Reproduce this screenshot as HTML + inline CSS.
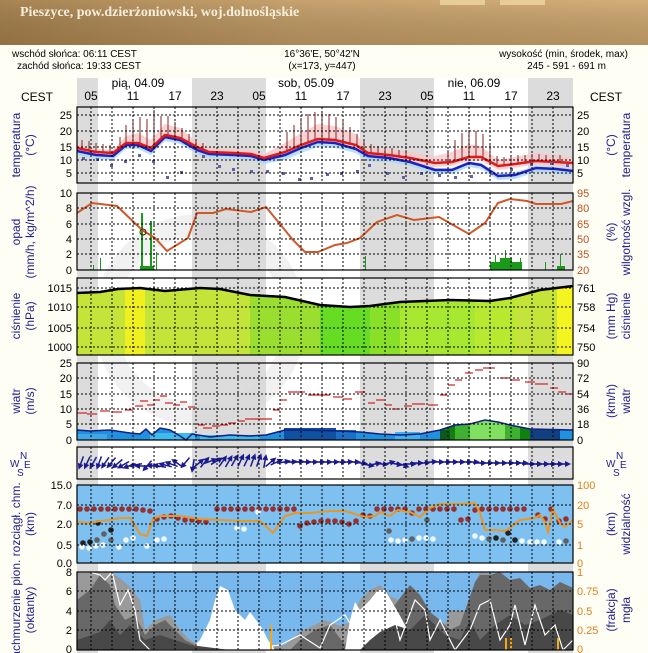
<!DOCTYPE html>
<html><head><meta charset="utf-8"><style>
html,body{margin:0;padding:0;background:#fffef4;width:648px;height:653px;overflow:hidden}
svg{display:block}
text{font-family:"Liberation Sans",sans-serif}
</style></head><body>
<svg width="648" height="653" viewBox="0 0 648 653" xmlns="http://www.w3.org/2000/svg">
<defs>
<linearGradient id="hd" x1="0" y1="0" x2="1" y2="0">
<stop offset="0" stop-color="#a88452"/><stop offset="0.45" stop-color="#c6a26e"/><stop offset="1" stop-color="#d2ae78"/></linearGradient>
<linearGradient id="hd2" x1="0" y1="0" x2="0" y2="1">
<stop offset="0" stop-color="#000" stop-opacity="0"/><stop offset="1" stop-color="#5a3a18" stop-opacity="0.25"/></linearGradient>
<g id="ar"><line x1="-7" y1="0" x2="3" y2="0" stroke="#1a1a90" stroke-width="1.5"/><polygon points="7,0 1,-3 1,3" fill="#1a1a90"/></g>
</defs>
<rect x="0" y="0" width="648" height="45" fill="url(#hd)"/>
<rect x="0" y="0" width="648" height="45" fill="url(#hd2)"/>
<rect x="440" y="0" width="45" height="5" fill="#e8cc98"/>
<rect x="500" y="0" width="45" height="5" fill="#e8cc98"/>
<text x="20" y="16" font-weight="bold" font-size="14" fill="#f6eedc" style="font-family:'Liberation Serif',serif">Pieszyce, pow.dzierżoniowski, woj.dolnośląskie</text>

<g font-size="10" fill="#000">
<text x="12" y="57">wschód słońca: 06:11 CEST</text>
<text x="17" y="69">zachód słońca: 19:33 CEST</text>
<text x="322" y="57" text-anchor="middle">16°36'E, 50°42'N</text>
<text x="322" y="69" text-anchor="middle">(x=173,  y=447)</text>
<text x="628" y="57" text-anchor="end">wysokość (min, środek, max)</text>
<text x="606" y="69" text-anchor="end">245 - 591 - 691 m</text>
</g>

<g fill="#dcdcdc">
<rect x="77" y="78" width="21" height="575"/>
<rect x="192" y="78" width="74" height="575"/>
<rect x="360" y="78" width="74" height="575"/>
<rect x="528" y="78" width="45" height="575"/>
</g>
<g fill="#ffffff">
<rect x="98" y="78" width="94" height="575"/><rect x="266" y="78" width="94" height="575"/><rect x="434" y="78" width="94" height="575"/>
</g>

<g font-size="12" fill="#000" text-anchor="middle">
<text x="138" y="87">pią, 04.09</text><text x="306" y="87">sob, 05.09</text><text x="474" y="87">nie, 06.09</text>
<text x="91" y="100">05</text><text x="133" y="100">11</text><text x="175" y="100">17</text><text x="217" y="100">23</text>
<text x="259" y="100">05</text><text x="301" y="100">11</text><text x="343" y="100">17</text><text x="385" y="100">23</text>
<text x="427" y="100">05</text><text x="469" y="100">11</text><text x="511" y="100">17</text><text x="553" y="100">23</text>
<text x="37" y="101">CEST</text><text x="606" y="101">CEST</text>
</g>

<circle cx="200" cy="320" r="95" fill="none" stroke="#d8d8d8" stroke-width="22" opacity="0.35"/>

<!-- TEMPERATURE -->
<polygon fill="#f8c8c8" opacity="0.8" points="77,144 96,149 113,150 126,136 138,133 151,140 165,124 180,128 197,142 209,148 234,149 251,150 264,154 285,143 301,133 318,124 335,126 356,134 368,148 389,149 410,152 435,156 452,152 469,144 481,146 498,160 515,157 536,153 556,155 573,157 573,168 556,166 536,164 515,168 498,170 481,161 469,161 452,166 435,167 410,162 389,159 368,157 356,150 335,145 318,143 301,150 285,156 264,162 251,158 234,157 209,156 197,151 180,142 165,139 151,152 138,147 126,147 113,157 96,156 77,152"/>
<polygon fill="#a8d8f8" opacity="0.8" points="77,150 96,154 113,155 126,144 138,144 151,150 165,136 180,139 197,149 209,153 234,154 251,155 264,159 285,154 301,147 318,141 335,142 356,148 368,155 389,157 410,161 435,168 452,168 469,161 481,163 498,173 515,172 536,166 556,167 573,169 573,175 536,172 515,179 498,180 481,169 469,167 452,174 435,174 410,166 389,162 368,161 356,153 335,148 318,147 301,153 285,160 264,164 251,160 234,159 209,158 197,154 180,144 165,141 151,155 138,149 126,149 113,160 96,159 77,155"/>
<g stroke="#8a2020" stroke-width="1">
<line x1="82" y1="148" x2="82" y2="140"/><line x1="89" y1="150" x2="89" y2="141"/><line x1="96" y1="152" x2="96" y2="143"/><line x1="103" y1="152" x2="103" y2="144"/><line x1="110" y1="153" x2="110" y2="145"/>
<line x1="120" y1="150" x2="120" y2="137"/><line x1="126" y1="143" x2="126" y2="125"/><line x1="133" y1="143" x2="133" y2="121"/><line x1="140" y1="143" x2="140" y2="117"/><line x1="147" y1="146" x2="147" y2="119"/><line x1="154" y1="147" x2="154" y2="110"/><line x1="161" y1="140" x2="161" y2="116"/><line x1="168" y1="136" x2="168" y2="116"/><line x1="175" y1="137" x2="175" y2="122"/><line x1="182" y1="139" x2="182" y2="128"/><line x1="189" y1="143" x2="189" y2="134"/><line x1="196" y1="147" x2="196" y2="140"/><line x1="203" y1="150" x2="203" y2="143"/>
<line x1="287" y1="151" x2="287" y2="132"/><line x1="294" y1="148" x2="294" y2="125"/><line x1="301" y1="145" x2="301" y2="118"/><line x1="308" y1="142" x2="308" y2="114"/><line x1="315" y1="140" x2="315" y2="112"/><line x1="322" y1="139" x2="322" y2="112"/><line x1="329" y1="139" x2="329" y2="114"/><line x1="336" y1="140" x2="336" y2="117"/><line x1="343" y1="142" x2="343" y2="121"/><line x1="350" y1="144" x2="350" y2="127"/><line x1="357" y1="146" x2="357" y2="134"/><line x1="364" y1="150" x2="364" y2="140"/><line x1="371" y1="153" x2="371" y2="144"/><line x1="378" y1="154" x2="378" y2="146"/><line x1="385" y1="155" x2="385" y2="147"/><line x1="392" y1="155" x2="392" y2="148"/><line x1="399" y1="157" x2="399" y2="150"/><line x1="406" y1="158" x2="406" y2="150"/>
<line x1="448" y1="162" x2="448" y2="150"/><line x1="455" y1="161" x2="455" y2="140"/><line x1="462" y1="159" x2="462" y2="133"/><line x1="469" y1="157" x2="469" y2="130"/><line x1="476" y1="157" x2="476" y2="131"/><line x1="483" y1="158" x2="483" y2="134"/><line x1="490" y1="161" x2="490" y2="144"/><line x1="497" y1="165" x2="497" y2="156"/><line x1="504" y1="165" x2="504" y2="157"/><line x1="511" y1="164" x2="511" y2="156"/><line x1="518" y1="163" x2="518" y2="155"/><line x1="525" y1="162" x2="525" y2="155"/><line x1="532" y1="161" x2="532" y2="154"/><line x1="539" y1="161" x2="539" y2="154"/><line x1="546" y1="162" x2="546" y2="155"/><line x1="553" y1="162" x2="553" y2="155"/><line x1="560" y1="162" x2="560" y2="155"/>
</g>
<polyline fill="none" stroke="#2020c0" stroke-width="2.5" points="77,151 96,155 113,156 126,145 138,145 151,151 165,137 180,140 197,150 209,154 234,155 251,156 264,160 285,155 301,148 318,142 335,143 356,149 368,156 389,158 410,162 435,170 452,170 469,163 481,165 498,176 515,175 536,168 556,169 573,171"/>
<polyline fill="none" stroke="#e01818" stroke-width="2.5" points="77,148 96,152 113,153 126,143 138,143 151,148 165,135 180,138 197,147 209,152 234,153 251,154 264,158 285,152 301,145 318,139 335,140 356,145 368,153 389,155 410,158 435,163 452,162 469,157 481,157 498,166 515,164 536,161 556,162 573,163"/>
<g fill="#6060b0">
<rect x="82" y="157" width="3" height="3"/><rect x="96" y="158" width="3" height="3"/><rect x="110" y="164" width="3" height="3"/><rect x="124" y="160" width="3" height="3"/><rect x="138" y="154" width="3" height="3"/><rect x="152" y="160" width="3" height="3"/><rect x="166" y="176" width="3" height="3"/><rect x="180" y="171" width="3" height="3"/><rect x="202" y="155" width="3" height="3"/><rect x="218" y="165" width="3" height="3"/><rect x="232" y="168" width="3" height="3"/><rect x="250" y="170" width="3" height="3"/><rect x="266" y="170" width="3" height="3"/><rect x="282" y="172" width="3" height="3"/><rect x="298" y="178" width="3" height="3"/><rect x="310" y="177" width="3" height="3"/><rect x="326" y="173" width="3" height="3"/><rect x="340" y="172" width="3" height="3"/><rect x="356" y="170" width="3" height="3"/><rect x="368" y="164" width="3" height="3"/><rect x="386" y="172" width="3" height="3"/><rect x="402" y="176" width="3" height="3"/><rect x="420" y="172" width="3" height="3"/><rect x="438" y="174" width="3" height="3"/><rect x="454" y="176" width="3" height="3"/><rect x="470" y="175" width="3" height="3"/><rect x="490" y="172" width="3" height="3"/><rect x="510" y="168" width="3" height="3"/><rect x="530" y="163" width="3" height="3"/><rect x="550" y="162" width="3" height="3"/><rect x="566" y="164" width="3" height="3"/>
</g>

<!-- OPAD -->
<g fill="#1a9a1a">
<rect x="141" y="213" width="2" height="57"/><rect x="150" y="221" width="2" height="49"/><rect x="156" y="252" width="1" height="18"/><rect x="100" y="258" width="1" height="12"/><rect x="93" y="265" width="1" height="5"/><rect x="365" y="256" width="1" height="14"/><rect x="140" y="266" width="14" height="4"/>
<rect x="490" y="262" width="32" height="8"/><rect x="500" y="258" width="12" height="4"/><rect x="505" y="250" width="1" height="12"/><rect x="495" y="255" width="1" height="8"/><rect x="520" y="258" width="1" height="6"/><rect x="545" y="262" width="1" height="8"/><rect x="560" y="254" width="1" height="16"/><rect x="557" y="266" width="8" height="4"/>
</g>
<polyline fill="none" stroke="#d05828" stroke-width="2" points="77,213 92,203 117,206 142,230 155,238 167,251 188,238 197,213 213,213 226,209 251,212 266,207 293,240 305,252 318,252 335,245 347,243 360,238 377,222 397,215 414,220 439,217 469,234 485,223 498,203 510,199 527,201 536,204 561,204 573,201"/>
<circle cx="143" cy="232" r="3" fill="none" stroke="#402010"/>

<!-- PRESSURE -->
<rect x="77" y="278" width="496" height="77" fill="#c4e43a"/>
<rect x="125" y="278" width="20" height="77" fill="#f0f020"/>
<rect x="557" y="278" width="16" height="77" fill="#f4f420"/>
<rect x="250" y="278" width="70" height="77" fill="#9ade30"/>
<rect x="320" y="278" width="50" height="77" fill="#66dd22"/>
<rect x="370" y="278" width="30" height="77" fill="#88e028"/>
<rect x="400" y="278" width="75" height="77" fill="#a8e830"/>
<rect x="475" y="278" width="40" height="77" fill="#b8e830"/>
<polygon fill="#ffffff" points="77,278 77,293 100,292 118,289 140,288 165,291 200,288 220,289 250,295 285,297 320,305 350,307 370,306 400,302 450,300 490,301 510,298 540,290 573,286 573,278"/>
<polygon fill="#dcdcdc" points="77,278 77,293 98,292 98,278"/>
<polygon fill="#dcdcdc" points="192,278 192,288 200,288 220,289 250,295 266,296 266,278"/>
<polygon fill="#dcdcdc" points="360,278 360,307 370,306 400,302 434,301 434,278"/>
<polygon fill="#dcdcdc" points="528,278 528,293 540,290 573,286 573,278"/>
<polyline fill="none" stroke="#000" stroke-width="2.5" points="77,293 100,292 118,289 140,288 165,291 200,288 220,289 250,295 285,297 320,305 350,307 370,306 400,302 450,300 490,301 510,298 540,290 573,286"/>

<!-- WIND -->
<polygon fill="#2090e0" points="77,430 90,431 110,430 130,433 140,434 146,429 152,435 160,428 170,430 180,436 186,440 192,434 210,437 230,435 250,436 266,435 285,430 300,430 340,431 360,432 380,434 400,435 420,434 440,430 455,425 470,424 485,420 498,422 510,425 530,429 573,430 573,440 77,440"/>
<rect x="284" y="428" width="52" height="12" fill="#1050a0"/>
<rect x="336" y="430" width="20" height="10" fill="#1a70c8"/>
<rect x="395" y="432" width="25" height="8" fill="#40b0f0"/>
<rect x="150" y="433" width="45" height="7" fill="#40b8f0"/>
<rect x="200" y="435" width="60" height="5" fill="#40b8f0"/>
<rect x="77" y="434" width="30" height="6" fill="#40a8e8"/>
<polygon fill="#108010" points="440,430 455,425 470,424 485,420 498,422 510,425 530,429 530,440 440,440"/>
<polygon fill="#40b030" points="455,425 470,424 485,420 498,422 510,425 520,427 520,440 455,440"/>
<polygon fill="#80e060" points="470,424 485,420 498,422 505,424 505,440 470,440"/>
<rect x="530" y="429" width="30" height="11" fill="#104080"/>
<rect x="440" y="430" width="10" height="10" fill="#0a5a20"/>
<polyline fill="none" stroke="#102080" stroke-width="1.5" points="77,430 90,431 110,430 130,433 140,434 146,429 152,435 160,428 170,430 180,436 186,440 192,434 210,437 230,435 250,436 266,435 285,430 300,430 340,431 360,432 380,434 400,435 420,434 440,430 455,425 470,424 485,420 498,422 510,425 530,429 573,430"/>
<g stroke="#d02020" stroke-width="1.2">
<line x1="77" y1="413" x2="87" y2="413"/><line x1="87" y1="414" x2="97" y2="414"/><line x1="100" y1="411" x2="110" y2="411"/><line x1="112" y1="412" x2="122" y2="412"/><line x1="125" y1="410" x2="133" y2="410"/><line x1="135" y1="406" x2="143" y2="406"/><line x1="140" y1="401" x2="148" y2="401"/><line x1="147" y1="405" x2="155" y2="405"/><line x1="153" y1="400" x2="160" y2="400"/><line x1="160" y1="396" x2="167" y2="396"/><line x1="165" y1="403" x2="173" y2="403"/><line x1="173" y1="405" x2="180" y2="405"/><line x1="180" y1="402" x2="187" y2="402"/><line x1="188" y1="407" x2="195" y2="407"/><line x1="198" y1="425" x2="205" y2="425"/><line x1="203" y1="428" x2="212" y2="428"/><line x1="212" y1="426" x2="220" y2="426"/><line x1="220" y1="425" x2="228" y2="425"/><line x1="228" y1="423" x2="236" y2="423"/><line x1="238" y1="421" x2="245" y2="421"/><line x1="245" y1="419" x2="255" y2="419"/><line x1="255" y1="419" x2="272" y2="419"/><line x1="273" y1="410" x2="280" y2="410"/><line x1="280" y1="400" x2="287" y2="400"/><line x1="288" y1="392" x2="295" y2="392"/><line x1="295" y1="392" x2="305" y2="392"/><line x1="308" y1="395" x2="330" y2="395"/><line x1="333" y1="397" x2="343" y2="397"/><line x1="343" y1="399" x2="352" y2="399"/><line x1="355" y1="392" x2="365" y2="392"/><line x1="368" y1="403" x2="375" y2="403"/><line x1="376" y1="400" x2="384" y2="400"/><line x1="385" y1="405" x2="392" y2="405"/><line x1="392" y1="409" x2="400" y2="409"/><line x1="404" y1="406" x2="412" y2="406"/><line x1="412" y1="404" x2="425" y2="404"/><line x1="428" y1="405" x2="438" y2="405"/><line x1="440" y1="395" x2="447" y2="395"/><line x1="448" y1="385" x2="455" y2="385"/><line x1="455" y1="380" x2="462" y2="380"/><line x1="465" y1="373" x2="473" y2="373"/><line x1="475" y1="370" x2="483" y2="370"/><line x1="483" y1="368" x2="495" y2="368"/><line x1="500" y1="378" x2="510" y2="378"/><line x1="510" y1="380" x2="520" y2="380"/><line x1="525" y1="382" x2="535" y2="382"/><line x1="535" y1="384" x2="548" y2="384"/><line x1="550" y1="388" x2="558" y2="388"/><line x1="558" y1="392" x2="566" y2="392"/><line x1="566" y1="394" x2="573" y2="394"/>
</g>

<!-- DIRECTION -->
<g>
<use href="#ar" transform="translate(81,463) rotate(110)"/><use href="#ar" transform="translate(87,463) rotate(115)"/><use href="#ar" transform="translate(93,463) rotate(120)"/><use href="#ar" transform="translate(99,463) rotate(110)"/><use href="#ar" transform="translate(105,463) rotate(125)"/><use href="#ar" transform="translate(111,463) rotate(130)"/><use href="#ar" transform="translate(117,464) rotate(140)"/><use href="#ar" transform="translate(123,465) rotate(150)"/><use href="#ar" transform="translate(129,466) rotate(160)"/><use href="#ar" transform="translate(135,465) rotate(170)"/><use href="#ar" transform="translate(141,466) rotate(180)"/><use href="#ar" transform="translate(147,466) rotate(130)"/><use href="#ar" transform="translate(153,466) rotate(185)"/><use href="#ar" transform="translate(159,466) rotate(190)"/><use href="#ar" transform="translate(165,465) rotate(195)"/><use href="#ar" transform="translate(171,464) rotate(200)"/><use href="#ar" transform="translate(177,463) rotate(215)"/><use href="#ar" transform="translate(185,463) rotate(130)"/><use href="#ar" transform="translate(193,466) rotate(100)"/>
<use href="#ar" transform="translate(199,463) rotate(-40)"/><use href="#ar" transform="translate(205,462) rotate(-50)"/><use href="#ar" transform="translate(211,461) rotate(-20)"/><use href="#ar" transform="translate(217,461) rotate(-30)"/><use href="#ar" transform="translate(223,461) rotate(-55)"/><use href="#ar" transform="translate(229,461) rotate(-60)"/><use href="#ar" transform="translate(235,460) rotate(-60)"/><use href="#ar" transform="translate(241,460) rotate(-65)"/><use href="#ar" transform="translate(247,460) rotate(-65)"/><use href="#ar" transform="translate(253,460) rotate(-70)"/><use href="#ar" transform="translate(259,460) rotate(-70)"/><use href="#ar" transform="translate(265,461) rotate(-80)"/><use href="#ar" transform="translate(271,462) rotate(-40)"/><use href="#ar" transform="translate(277,462) rotate(-25)"/>
<use href="#ar" transform="translate(284,462) rotate(-10)"/><use href="#ar" transform="translate(291,462) rotate(-5)"/><use href="#ar" transform="translate(298,462) rotate(-5)"/><use href="#ar" transform="translate(305,462) rotate(0)"/><use href="#ar" transform="translate(312,462) rotate(0)"/><use href="#ar" transform="translate(319,462) rotate(0)"/><use href="#ar" transform="translate(326,462) rotate(0)"/><use href="#ar" transform="translate(333,462) rotate(0)"/><use href="#ar" transform="translate(340,462) rotate(0)"/><use href="#ar" transform="translate(347,462) rotate(-3)"/><use href="#ar" transform="translate(354,462) rotate(0)"/><use href="#ar" transform="translate(361,463) rotate(5)"/><use href="#ar" transform="translate(368,465) rotate(10)"/><use href="#ar" transform="translate(375,464) rotate(-10)"/><use href="#ar" transform="translate(382,464) rotate(5)"/><use href="#ar" transform="translate(389,463) rotate(-15)"/><use href="#ar" transform="translate(396,464) rotate(10)"/><use href="#ar" transform="translate(403,465) rotate(20)"/><use href="#ar" transform="translate(410,464) rotate(0)"/><use href="#ar" transform="translate(417,463) rotate(0)"/><use href="#ar" transform="translate(424,463) rotate(-5)"/><use href="#ar" transform="translate(431,462) rotate(-5)"/><use href="#ar" transform="translate(438,462) rotate(0)"/><use href="#ar" transform="translate(445,462) rotate(0)"/><use href="#ar" transform="translate(452,462) rotate(0)"/><use href="#ar" transform="translate(459,462) rotate(0)"/><use href="#ar" transform="translate(466,462) rotate(0)"/><use href="#ar" transform="translate(473,462) rotate(0)"/><use href="#ar" transform="translate(480,463) rotate(0)"/><use href="#ar" transform="translate(487,463) rotate(0)"/><use href="#ar" transform="translate(494,463) rotate(0)"/><use href="#ar" transform="translate(501,463) rotate(0)"/><use href="#ar" transform="translate(508,463) rotate(0)"/><use href="#ar" transform="translate(515,463) rotate(0)"/><use href="#ar" transform="translate(522,463) rotate(0)"/><use href="#ar" transform="translate(529,464) rotate(0)"/><use href="#ar" transform="translate(536,464) rotate(0)"/><use href="#ar" transform="translate(543,464) rotate(0)"/><use href="#ar" transform="translate(550,464) rotate(0)"/><use href="#ar" transform="translate(557,464) rotate(0)"/><use href="#ar" transform="translate(564,464) rotate(0)"/>
</g>

<!-- CLOUD BASE -->
<rect x="77" y="485" width="496" height="78" fill="#7ec0f0"/>
<g fill="#983030">
<circle cx="80" cy="509" r="2.8"/><circle cx="87" cy="509" r="2.8"/><circle cx="94" cy="509" r="2.8"/><circle cx="101" cy="509" r="2.8"/><circle cx="108" cy="509" r="2.8"/><circle cx="115" cy="509" r="2.8"/><circle cx="122" cy="509" r="2.8"/><circle cx="129" cy="509" r="2.8"/><circle cx="136" cy="509" r="2.8"/><circle cx="143" cy="510" r="2.8"/><circle cx="150" cy="511" r="2.8"/>
<circle cx="157" cy="519" r="2.8"/><circle cx="164" cy="517" r="2.8"/><circle cx="171" cy="516" r="2.8"/><circle cx="178" cy="518" r="2.8"/><circle cx="185" cy="520" r="2.8"/><circle cx="192" cy="520" r="2.8"/><circle cx="199" cy="521" r="2.8"/><circle cx="206" cy="522" r="2.8"/>
<circle cx="217" cy="509" r="2.8"/><circle cx="224" cy="509" r="2.8"/><circle cx="231" cy="509" r="2.8"/><circle cx="238" cy="509" r="2.8"/><circle cx="245" cy="509" r="2.8"/><circle cx="252" cy="509" r="2.8"/><circle cx="259" cy="509" r="2.8"/><circle cx="266" cy="509" r="2.8"/><circle cx="273" cy="509" r="2.8"/><circle cx="280" cy="509" r="2.8"/><circle cx="287" cy="509" r="2.8"/><circle cx="294" cy="509" r="2.8"/>
<circle cx="300" cy="526" r="2.8"/><circle cx="307" cy="523" r="2.8"/><circle cx="314" cy="522" r="2.8"/><circle cx="321" cy="521" r="2.8"/><circle cx="328" cy="521" r="2.8"/><circle cx="335" cy="521" r="2.8"/><circle cx="342" cy="522" r="2.8"/><circle cx="349" cy="524" r="2.8"/><circle cx="356" cy="521" r="2.8"/><circle cx="363" cy="515" r="2.8"/><circle cx="370" cy="516" r="2.8"/>
<circle cx="377" cy="509" r="2.8"/><circle cx="384" cy="509" r="2.8"/><circle cx="391" cy="509" r="2.8"/><circle cx="398" cy="509" r="2.8"/><circle cx="405" cy="509" r="2.8"/><circle cx="412" cy="513" r="2.8"/><circle cx="419" cy="509" r="2.8"/><circle cx="426" cy="509" r="2.8"/><circle cx="433" cy="509" r="2.8"/><circle cx="440" cy="509" r="2.8"/><circle cx="447" cy="509" r="2.8"/><circle cx="454" cy="509" r="2.8"/><circle cx="461" cy="520" r="2.8"/><circle cx="468" cy="519" r="2.8"/>
<circle cx="475" cy="510" r="2.8"/><circle cx="482" cy="509" r="2.8"/><circle cx="489" cy="509" r="2.8"/><circle cx="496" cy="509" r="2.8"/><circle cx="503" cy="509" r="2.8"/><circle cx="510" cy="509" r="2.8"/><circle cx="517" cy="509" r="2.8"/><circle cx="524" cy="509" r="2.8"/><circle cx="538" cy="515" r="2.8"/><circle cx="545" cy="519" r="2.8"/><circle cx="551" cy="509" r="2.8"/><circle cx="559" cy="521" r="2.8"/><circle cx="566" cy="519" r="2.8"/>
</g>
<g fill="#222">
<circle cx="83" cy="543" r="2.8"/><circle cx="90" cy="542" r="2.8"/><circle cx="98" cy="523" r="2.8"/><circle cx="111" cy="530" r="2.8"/><circle cx="496" cy="538" r="2.8"/><circle cx="515" cy="540" r="2.8"/><circle cx="508" cy="533" r="2.8"/>
</g>
<g fill="#606060">
<circle cx="97" cy="540" r="2.8"/><circle cx="104" cy="534" r="2.8"/><circle cx="111" cy="540" r="2.8"/><circle cx="389" cy="531" r="2.8"/><circle cx="412" cy="539" r="2.8"/><circle cx="427" cy="520" r="2.8"/><circle cx="489" cy="539" r="2.8"/><circle cx="503" cy="540" r="2.8"/><circle cx="566" cy="541" r="2.8"/>
</g>
<g fill="#f0f8ff">
<circle cx="82" cy="547" r="2.8"/><circle cx="89" cy="548" r="2.8"/><circle cx="96" cy="546" r="2.8"/><circle cx="103" cy="545" r="2.8"/><circle cx="119" cy="547" r="2.8"/><circle cx="126" cy="540" r="2.8"/><circle cx="133" cy="538" r="2.8"/><circle cx="147" cy="546" r="2.8"/><circle cx="157" cy="540" r="2.8"/><circle cx="164" cy="539" r="2.8"/><circle cx="237" cy="528" r="2.8"/><circle cx="244" cy="529" r="2.8"/><circle cx="258" cy="512" r="2.8"/><circle cx="391" cy="540" r="2.8"/><circle cx="398" cy="541" r="2.8"/><circle cx="405" cy="540" r="2.8"/><circle cx="419" cy="538" r="2.8"/><circle cx="426" cy="538" r="2.8"/><circle cx="433" cy="539" r="2.8"/><circle cx="475" cy="536" r="2.8"/><circle cx="482" cy="538" r="2.8"/><circle cx="522" cy="541" r="2.8"/><circle cx="530" cy="542" r="2.8"/><circle cx="537" cy="542" r="2.8"/><circle cx="544" cy="542" r="2.8"/><circle cx="559" cy="542" r="2.8"/>
</g>
<polyline fill="none" stroke="#e89828" stroke-width="2" points="77,522 90,523 100,521 110,520 120,518 130,518 140,534 147,536 153,519 160,516 180,516 200,519 220,520 240,521 260,521 270,530 273,533 285,516 295,513 310,513 330,511 345,511 355,514 365,517 375,516 380,512 390,516 398,510 410,512 420,517 430,508 440,504 460,504 475,503 480,513 485,530 492,530 505,531 510,528 520,520 535,518 540,515 545,522 548,532 553,509 560,523 565,527 573,520"/>

<!-- CLOUD COVER -->
<rect x="77" y="572" width="496" height="78" fill="#78b8ec"/>
<polygon fill="#9a9a9a" points="77,572 77,650 573,650 573,620 560,598 545,615 530,600 515,603 505,585 500,575 480,572 475,582 470,612 450,610 445,625 430,617 415,608 398,600 390,596 380,585 370,590 360,600 350,622 340,626 325,620 300,632 285,645 270,646 250,650 235,650 225,650 200,645 190,640 180,630 170,615 155,620 145,630 140,600 130,587 120,578 110,572"/>
<polygon fill="#686868" points="77,600 90,590 100,575 110,585 115,605 125,620 135,615 145,635 155,625 165,620 175,630 185,640 195,645 215,648 235,635 245,647 270,648 290,650 300,640 315,630 330,625 345,645 355,620 365,605 375,595 385,600 395,605 400,598 410,585 420,595 430,612 440,620 450,630 460,625 475,582 480,575 490,575 500,572 510,580 520,578 530,588 540,585 550,590 560,582 573,588 573,650 77,650"/>
<polygon fill="#ffffff" points="190,650 200,640 210,620 215,600 220,586 228,590 235,610 245,620 250,612 262,628 268,640 275,650"/>
<polygon fill="#ffffff" points="345,650 350,620 355,602 360,610 370,600 378,590 385,590 392,602 398,612 405,625 410,640 415,650"/>
<polygon fill="#484848" points="77,640 100,632 110,620 120,635 130,625 145,640 160,635 175,640 190,645 230,650 360,650 370,640 380,632 395,625 410,630 425,615 445,635 460,640 470,620 480,640 495,625 510,615 525,625 540,620 560,610 573,615 573,650 77,650"/>
<polyline fill="none" stroke="#ffffff" stroke-width="1.2" points="77,572 90,572 100,575 105,580 112,572 120,605 128,590 135,610 140,640 150,650 200,650 240,650 280,645 300,635 320,648 330,625 345,615 360,640 375,600 385,612 395,620 400,640 415,600 425,610 430,640 440,620 455,650 470,630 480,605 490,600 500,640 510,625 515,605 525,645 535,605 545,635 555,625 563,650 573,640"/>
<g fill="#f4a818">
<rect x="270" y="625" width="2" height="25"/><rect x="505" y="638" width="2" height="12"/><rect x="510" y="638" width="2" height="12"/><rect x="557" y="638" width="2" height="12"/>
</g>

<!-- grids -->
<g stroke="#000" stroke-width="1" stroke-dasharray="2,2" fill="none">
<path d="M91 107V183M112 107V183M133 107V183M154 107V183M175 107V183M196 107V183M217 107V183M238 107V183M259 107V183M280 107V183M301 107V183M322 107V183M343 107V183M364 107V183M385 107V183M406 107V183M427 107V183M448 107V183M469 107V183M490 107V183M511 107V183M532 107V183M553 107V183"/>
<path d="M91 193V270M112 193V270M133 193V270M154 193V270M175 193V270M196 193V270M217 193V270M238 193V270M259 193V270M280 193V270M301 193V270M322 193V270M343 193V270M364 193V270M385 193V270M406 193V270M427 193V270M448 193V270M469 193V270M490 193V270M511 193V270M532 193V270M553 193V270"/>
<path d="M91 278V355M112 278V355M133 278V355M154 278V355M175 278V355M196 278V355M217 278V355M238 278V355M259 278V355M280 278V355M301 278V355M322 278V355M343 278V355M364 278V355M385 278V355M406 278V355M427 278V355M448 278V355M469 278V355M490 278V355M511 278V355M532 278V355M553 278V355"/>
<path d="M91 363V440M112 363V440M133 363V440M154 363V440M175 363V440M196 363V440M217 363V440M238 363V440M259 363V440M280 363V440M301 363V440M322 363V440M343 363V440M364 363V440M385 363V440M406 363V440M427 363V440M448 363V440M469 363V440M490 363V440M511 363V440M532 363V440M553 363V440"/>
<path d="M91 447V479M112 447V479M133 447V479M154 447V479M175 447V479M196 447V479M217 447V479M238 447V479M259 447V479M280 447V479M301 447V479M322 447V479M343 447V479M364 447V479M385 447V479M406 447V479M427 447V479M448 447V479M469 447V479M490 447V479M511 447V479M532 447V479M553 447V479"/>
<path d="M91 485V563M112 485V563M133 485V563M154 485V563M175 485V563M196 485V563M217 485V563M238 485V563M259 485V563M280 485V563M301 485V563M322 485V563M343 485V563M364 485V563M385 485V563M406 485V563M427 485V563M448 485V563M469 485V563M490 485V563M511 485V563M532 485V563M553 485V563"/>
<path d="M91 572V650M112 572V650M133 572V650M154 572V650M175 572V650M196 572V650M217 572V650M238 572V650M259 572V650M280 572V650M301 572V650M322 572V650M343 572V650M364 572V650M385 572V650M406 572V650M427 572V650M448 572V650M469 572V650M490 572V650M511 572V650M532 572V650M553 572V650"/>
<path d="M77 115H573M77 131H573M77 147H573M77 160H573M77 173H573"/>
<path d="M77 193H573M77 208H573M77 224H573M77 239H573M77 254H573"/>
<path d="M77 288H573M77 307H573M77 328H573M77 347H573"/>
<path d="M77 378H573M77 394H573M77 409H573M77 424H573"/>
<path d="M77 505H573M77 524H573M77 545H573"/>
<path d="M77 591H573M77 611H573M77 630H573"/>
</g>
<g fill="none" stroke="#000" stroke-width="1.2">
<rect x="77" y="107" width="496" height="76"/><rect x="77" y="193" width="496" height="77"/><rect x="77" y="278" width="496" height="77"/><rect x="77" y="363" width="496" height="77"/><rect x="77" y="447" width="496" height="32"/><rect x="77" y="485" width="496" height="78"/><rect x="77" y="572" width="496" height="78"/>
</g>

<!-- axis labels -->
<g font-size="11" fill="#000" text-anchor="end">
<text x="72" y="119">25</text><text x="72" y="135">20</text><text x="72" y="151">15</text><text x="72" y="164">10</text><text x="72" y="177">5</text>
<text x="72" y="197">10</text><text x="72" y="212">8</text><text x="72" y="228">6</text><text x="72" y="243">4</text><text x="72" y="258">2</text><text x="72" y="274">0</text>
<text x="72" y="292">1015</text><text x="72" y="311">1010</text><text x="72" y="332">1005</text><text x="72" y="351">1000</text>
<text x="72" y="367">25</text><text x="72" y="382">20</text><text x="72" y="398">15</text><text x="72" y="413">10</text><text x="72" y="428">5</text><text x="72" y="444">0</text>
<text x="72" y="489">15.0</text><text x="72" y="509">7.0</text><text x="72" y="528">2.0</text><text x="72" y="549">0.5</text><text x="72" y="567">0.0</text>
<text x="72" y="576">8</text><text x="72" y="595">6</text><text x="72" y="615">4</text><text x="72" y="634">2</text><text x="72" y="653">0</text>
</g>
<g font-size="11" fill="#000">
<text x="577" y="119">25</text><text x="577" y="135">20</text><text x="577" y="151">15</text><text x="577" y="164">10</text><text x="577" y="177">5</text>
<text x="577" y="367">90</text><text x="577" y="382">72</text><text x="577" y="398">54</text><text x="577" y="413">36</text><text x="577" y="428">18</text><text x="577" y="444">0</text>
</g>
<g font-size="11" fill="#c05020">
<text x="577" y="197">95</text><text x="577" y="212">80</text><text x="577" y="228">65</text><text x="577" y="243">50</text><text x="577" y="258">35</text><text x="577" y="274">20</text>
</g>
<g font-size="11" fill="#000">
<text x="577" y="292">761</text><text x="577" y="311">758</text><text x="577" y="332">754</text><text x="577" y="351">750</text>
</g>
<g font-size="11" fill="#e08020">
<text x="577" y="489">100</text><text x="577" y="509">20</text><text x="577" y="528">5</text><text x="577" y="549">1</text><text x="577" y="567">0</text>
<text x="577" y="576">1</text><text x="577" y="595">0.75</text><text x="577" y="615">0.5</text><text x="577" y="634">0.25</text><text x="577" y="653">0</text>
</g>

<g font-size="12" fill="#202090" text-anchor="middle">
<text transform="translate(20,145) rotate(-90)">temperatura</text><text transform="translate(34,145) rotate(-90)">(°C)</text>
<text transform="translate(20,232) rotate(-90)">opad</text><text transform="translate(34,232) rotate(-90)">(mm/h, kg/m^2/h)</text>
<text transform="translate(20,316) rotate(-90)">ciśnienie</text><text transform="translate(34,316) rotate(-90)">(hPa)</text>
<text transform="translate(20,401) rotate(-90)">wiatr</text><text transform="translate(34,401) rotate(-90)">(m/s)</text>
<text transform="translate(20,570) rotate(-90)">achmurzenie pion. rozciągł. chm.</text><text transform="translate(34,524) rotate(-90)">(km)</text>
<text transform="translate(34,610) rotate(-90)">(oktanty)</text>
<text transform="translate(615,145) rotate(-90)">(°C)</text><text transform="translate(630,145) rotate(-90)">temperatura</text>
<text transform="translate(615,232) rotate(-90)">(%)</text><text transform="translate(630,232) rotate(-90)">wilgotność wzgl.</text>
<text transform="translate(615,316) rotate(-90)">(mm Hg)</text><text transform="translate(630,316) rotate(-90)">ciśnienie</text>
<text transform="translate(615,401) rotate(-90)">(km/h)</text><text transform="translate(630,401) rotate(-90)">wiatr</text>
<text transform="translate(615,524) rotate(-90)">(km)</text><text transform="translate(630,524) rotate(-90)">widzialność</text>
<text transform="translate(615,610) rotate(-90)">(frakcja)</text><text transform="translate(630,610) rotate(-90)">mgła</text>
</g>
<g font-size="10" fill="#202090">
<text x="10" y="467">W</text><text x="20" y="459">N</text><text x="24" y="468">E</text><text x="17" y="476">S</text>
<text x="606" y="467">W</text><text x="616" y="459">N</text><text x="620" y="468">E</text><text x="613" y="476">S</text>
</g>
</svg>
</body></html>
